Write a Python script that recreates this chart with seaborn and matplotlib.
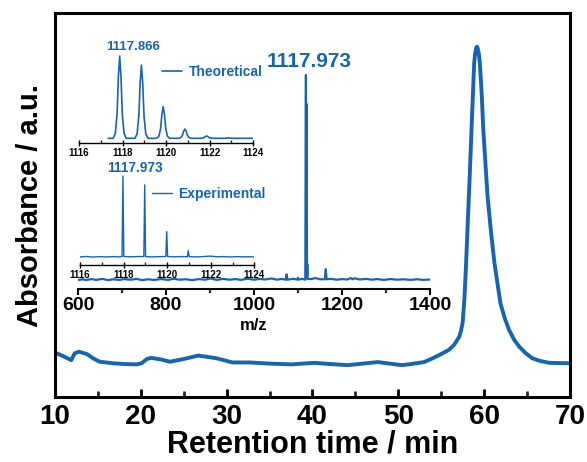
import numpy as np
import matplotlib
matplotlib.use('Agg')
from matplotlib import pyplot as plt
from matplotlib.ticker import MultipleLocator
import seaborn as sns

# ---------- data ----------
# HPLC chromatogram
rt_min = [10.0, 11.0, 11.9, 12.3, 12.8, 13.7, 14.5, 15.2, 16.7, 18.0, 19.5, 20.1, 20.7, 21.2,
          22.3, 23.4, 25.0, 26.7, 28.8, 30.7, 32.7, 35.0, 37.6, 40.2, 42.0, 44.1, 47.6, 50.4,
          51.5, 53.0, 54.0, 55.0, 55.9, 56.5, 57.1, 57.3, 57.5, 57.7, 57.9, 58.1, 58.3, 58.45,
          58.6, 58.84, 58.95, 59.07, 59.15, 59.22, 59.38, 59.5, 59.73, 59.9, 60.4, 60.8, 61.2,
          61.9, 62.4, 62.9, 63.5, 64.1, 64.8, 65.6, 66.5, 67.6, 69.9, 70.0]
absorb = [0.116, 0.106, 0.096, 0.114, 0.118, 0.112, 0.100, 0.092, 0.088, 0.086, 0.085, 0.088,
          0.099, 0.102, 0.098, 0.092, 0.099, 0.108, 0.101, 0.090, 0.090, 0.087, 0.085, 0.089,
          0.086, 0.083, 0.091, 0.083, 0.086, 0.091, 0.101, 0.112, 0.123, 0.136, 0.157, 0.172,
          0.195, 0.255, 0.349, 0.460, 0.566, 0.652, 0.739, 0.870, 0.895, 0.910, 0.913, 0.911,
          0.895, 0.870, 0.783, 0.696, 0.522, 0.430, 0.349, 0.244, 0.205, 0.175, 0.149, 0.131,
          0.115, 0.101, 0.094, 0.089, 0.088, 0.088]

# full mass spectrum 600-1400
ms_mz = [600, 612, 618, 630, 641, 655, 668, 680, 694, 705, 720, 733, 745, 760, 772, 790, 805,
         818, 830, 845, 860, 874, 889, 901, 915, 930, 944, 958, 970, 985, 1000, 1012, 1025,
         1040, 1052, 1063, 1072, 1074, 1076, 1088, 1099, 1100, 1101, 1110, 1116.5, 1117.97,
         1118.5, 1118.97, 1119.5, 1119.97, 1120.5, 1120.97, 1121.5, 1130, 1140, 1150, 1161,
         1163, 1165, 1175, 1188, 1200, 1212, 1220, 1224, 1228, 1240, 1255, 1268, 1280, 1295,
         1310, 1325, 1340, 1355, 1370, 1385, 1400]
ms_int = [0.003, 0.006, 0.002, 0.007, 0.003, 0.008, 0.002, 0.006, 0.003, 0.007, 0.004, 0.008,
          0.002, 0.006, 0.003, 0.007, 0.003, 0.009, 0.004, 0.006, 0.002, 0.007, 0.004, 0.010,
          0.003, 0.008, 0.004, 0.007, 0.003, 0.009, 0.004, 0.008, 0.005, 0.010, 0.004, 0.008,
          0.004, 0.030, 0.004, 0.008, 0.005, 0.014, 0.005, 0.008, 0.004, 1.000, 0.050, 0.860,
          0.030, 0.300, 0.020, 0.080, 0.008, 0.007, 0.012, 0.006, 0.006, 0.055, 0.006, 0.008,
          0.004, 0.007, 0.005, 0.012, 0.006, 0.011, 0.005, 0.008, 0.004, 0.007, 0.003, 0.007,
          0.004, 0.006, 0.003, 0.006, 0.003, 0.005]

# theoretical isotope pattern
theo_mz = [1116.0, 1117.35, 1117.57, 1117.67, 1117.75, 1117.81, 1117.87, 1117.93, 1117.99, 1118.07,
           1118.17, 1118.57, 1118.67, 1118.75, 1118.81, 1118.87, 1118.93, 1118.99, 1119.07, 1119.17,
           1119.57, 1119.67, 1119.75, 1119.81, 1119.87, 1119.93, 1119.99, 1120.07, 1120.17,
           1120.57, 1120.67, 1120.75, 1120.81, 1120.87, 1120.93, 1120.99, 1121.07, 1121.17,
           1121.62, 1121.75, 1121.81, 1121.87, 1121.93, 1121.99, 1122.12,
           1122.72, 1122.87, 1123.02, 1124.0]
theo_int = [np.nan, 0, 0, 0.06, 0.30, 0.75, 1.0, 0.75, 0.30, 0.06,
            0, 0, 0.053, 0.267, 0.668, 0.89, 0.668, 0.267, 0.053, 0,
            0, 0.023, 0.115, 0.288, 0.384, 0.288, 0.115, 0.023, 0,
            0, 0.007, 0.034, 0.085, 0.113, 0.085, 0.034, 0.007, 0,
            0, 0.008, 0.021, 0.028, 0.021, 0.008, 0,
            0, 0.006, 0, 0]

# experimental isotope pattern
exp_mz = [1116.0, 1116.3, 1116.6, 1116.9, 1117.2, 1117.5, 1117.8, 1117.93, 1117.97, 1118.01,
          1118.3, 1118.6, 1118.93, 1118.97, 1119.01, 1119.3, 1119.6, 1119.94, 1119.98, 1120.02,
          1120.3, 1120.6, 1120.93, 1120.97, 1121.01, 1121.3, 1121.6, 1121.97, 1122.3, 1122.6,
          1122.9, 1123.2, 1123.5, 1123.8, 1124.0]
exp_int = [0.004, 0.010, 0.003, 0.008, 0.004, 0.009, 0.005, 0.010, 1.000, 0.010,
           0.006, 0.009, 0.010, 0.890, 0.010, 0.005, 0.008, 0.010, 0.315, 0.010,
           0.006, 0.009, 0.008, 0.081, 0.008, 0.005, 0.008, 0.015, 0.006, 0.009,
           0.004, 0.008, 0.005, 0.007, 0.004]

blue = '#1565b0'

# ---------- figure ----------
sns.set_theme(style='ticks')
plt.rcParams['font.family'] = ['Liberation Sans', 'DejaVu Sans']
plt.rcParams['font.weight'] = 'bold'
plt.rcParams['axes.labelweight'] = 'bold'

fig = plt.figure(figsize=(5.87, 4.62), dpi=100)

# main chromatogram
ax = fig.add_axes([0.0937, 0.1407, 0.8773, 0.8305])
sns.lineplot(x=rt_min, y=absorb, ax=ax, sort=False, estimator=None, color=blue, lw=2.8)
ax.set_xlim(10, 70)
ax.set_ylim(0, 1)
ax.set_yticks([])
ax.xaxis.set_major_locator(MultipleLocator(10))
ax.xaxis.set_minor_locator(MultipleLocator(5))
ax.tick_params(axis='x', which='major', direction='in', length=6, width=2, labelsize=20, pad=5, colors='black')
ax.tick_params(axis='x', which='minor', direction='in', length=4, width=2)
for s in ax.spines.values():
    s.set_linewidth(2.2)
    s.set_color('black')
ax.set_xlabel('Retention time / min', fontsize=22, labelpad=0, color='black')
ax.set_ylabel('Absorbance / a.u.', fontsize=21, labelpad=8, color='black')

# mass spectrum inset
ax_ms = fig.add_axes([0.1329, 0.3755, 0.5997, 0.5379])
ax_ms.patch.set_alpha(0)
sns.lineplot(x=ms_mz, y=ms_int, ax=ax_ms, sort=False, estimator=None, color=blue, lw=1.6)
ax_ms.set_xlim(600, 1400)
ax_ms.set_ylim(-0.0389, 1.17)
ax_ms.set_yticks([])
for side in ['left', 'right', 'top']:
    ax_ms.spines[side].set_visible(False)
ax_ms.spines['bottom'].set_linewidth(1.5)
ax_ms.spines['bottom'].set_color('black')
ax_ms.xaxis.set_major_locator(MultipleLocator(200))
ax_ms.xaxis.set_minor_locator(MultipleLocator(100))
ax_ms.tick_params(axis='x', which='major', direction='out', length=4, width=1.5, labelsize=14, pad=2, colors='black')
ax_ms.tick_params(axis='x', which='minor', direction='out', length=3, width=1.5)
ax_ms.set_xlabel('m/z', fontsize=12, labelpad=3, color='black')
ax_ms.text(1125, 1.065, '1117.973', color=blue, fontsize=15, ha='center', va='center')

# theoretical isotope pattern
ax_th = fig.add_axes([0.1346, 0.6898, 0.2964, 0.1976])
ax_th.patch.set_alpha(0)
sns.lineplot(x=theo_mz, y=theo_int, ax=ax_th, sort=False, estimator=None, color=blue, lw=1.2,
             label='Theoretical')
ax_th.set_xlim(1116, 1124)
ax_th.set_ylim(-0.0608, 1.0486)
ax_th.text(1118.47, 1.113, '1117.866', color=blue, fontsize=9.5, ha='center', va='center')

# experimental isotope pattern
ax_ex = fig.add_axes([0.1363, 0.4264, 0.2969, 0.2013])
ax_ex.patch.set_alpha(0)
sns.lineplot(x=exp_mz, y=exp_int, ax=ax_ex, sort=False, estimator=None, color=blue, lw=1.0,
             label='Experimental')
ax_ex.set_xlim(1116, 1124)
ax_ex.set_ylim(-0.0947, 1.049)
ax_ex.text(1118.52, 1.095, '1117.973', color=blue, fontsize=9.8, ha='center', va='center')

for a in [ax_th, ax_ex]:
    a.set_yticks([])
    for side in ['left', 'right', 'top']:
        a.spines[side].set_visible(False)
    a.spines['bottom'].set_linewidth(1.0)
    a.spines['bottom'].set_color('black')
    a.xaxis.set_major_locator(MultipleLocator(2))
    a.xaxis.set_minor_locator(MultipleLocator(1))
    a.tick_params(axis='x', which='major', direction='inout', length=4, width=1.0, labelsize=7, pad=1.5, colors='black')
    a.tick_params(axis='x', which='minor', direction='in', length=2, width=1.0)

ax_th.legend(loc='center left', bbox_to_anchor=(162 / 587, 1 - 71.7 / 462), bbox_transform=fig.transFigure,
             frameon=False, borderpad=0, borderaxespad=0, handlelength=1.45, handletextpad=0.45,
             labelcolor='linecolor', prop={'size': 10, 'weight': 'bold'})
ax_ex.legend(loc='center left', bbox_to_anchor=(151.7 / 587, 1 - 194.3 / 462), bbox_transform=fig.transFigure,
             frameon=False, borderpad=0, borderaxespad=0, handlelength=1.45, handletextpad=0.45,
             labelcolor='linecolor', prop={'size': 10, 'weight': 'bold'})

fig.savefig('out.png', dpi=100)
